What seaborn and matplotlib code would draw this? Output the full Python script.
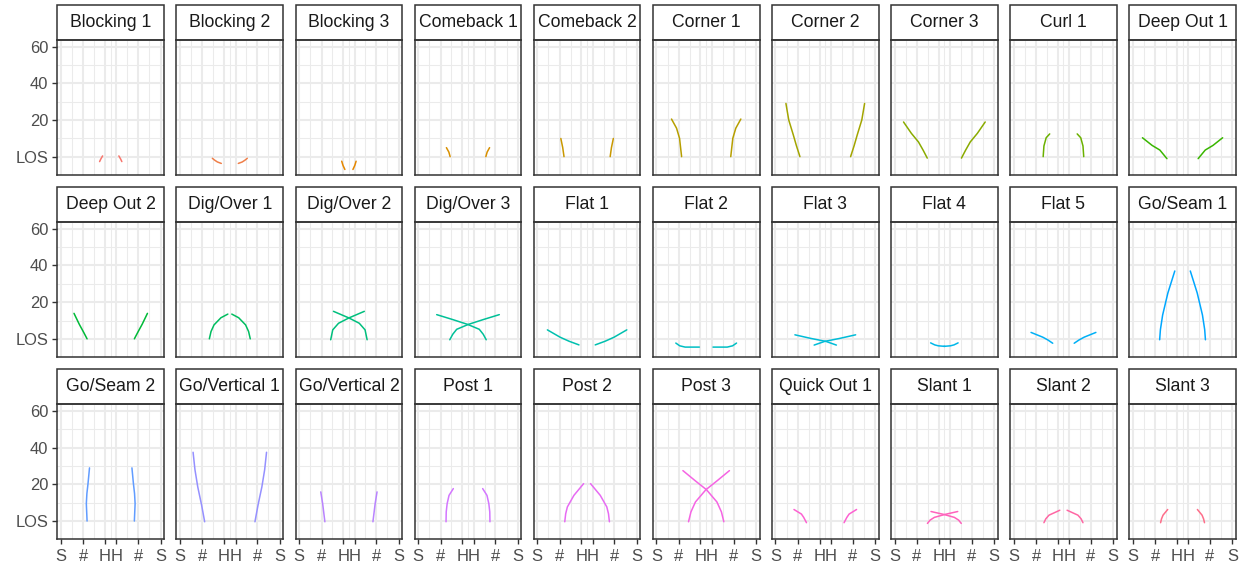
import numpy as np
import pandas as pd
import matplotlib
matplotlib.use("Agg")
import matplotlib.pyplot as plt
import seaborn as sns
from matplotlib.patches import Rectangle

# route names, one facet each
routes = ["Blocking 1", "Blocking 2", "Blocking 3", "Comeback 1", "Comeback 2",
          "Corner 1", "Corner 2", "Corner 3", "Curl 1", "Deep Out 1",
          "Deep Out 2", "Dig/Over 1", "Dig/Over 2", "Dig/Over 3", "Flat 1",
          "Flat 2", "Flat 3", "Flat 4", "Flat 5", "Go/Seam 1",
          "Go/Seam 2", "Go/Vertical 1", "Go/Vertical 2", "Post 1", "Post 2",
          "Post 3", "Quick Out 1", "Slant 1", "Slant 2", "Slant 3"]

# left-side receiver path (yards from sideline, yards past LOS)
left_x = [
    [22.3, 21.3, 20.7],
    [17.3, 18.5, 20.0, 22.1],
    [22.8, 23.5, 24.5],
    [17.1, 16.4, 15.1],
    [14.3, 13.6, 12.6],
    [13.5, 12.4, 10.8, 8.1],
    [13.1, 11.2, 9.5, 7.1, 5.6],
    [17.5, 15.3, 12.8, 9.0, 4.8],
    [15.8, 16.2, 17.4, 19.3],
    [18.3, 14.5, 10.4, 5.2],
    [14.0, 12.2, 9.8, 7.0],
    [15.7, 16.6, 18.2, 21.9, 25.6],
    [16.9, 18.0, 21.1, 26.65, 34.9],
    [16.9, 18.5, 20.6, 26.9, 35.1, 43.4],
    [22.3, 17.0, 12.2, 5.4],
    [10.4, 12.5, 15.4, 23.0],
    [20.7, 26.3, 34.2, 42.9],
    [19.3, 21.5, 23.4, 26.9],
    [20.9, 18.3, 15.6, 9.3],
    [14.4, 14.8, 16.0, 18.8, 22.5],
    [14.0, 13.6, 13.9, 14.5, 15.3],
    [13.2, 11.5, 9.5, 8.0, 7.0],
    [13.8, 12.6, 11.6],
    [14.9, 15.0, 15.5, 16.5, 18.8],
    [14.7, 15.2, 16.1, 19.6, 24.8],
    [17.2, 18.5, 20.9, 26.5, 32.3, 39.1],
    [16.6, 15.1, 13.9, 9.9],
    [17.6, 19.0, 21.3, 26.9, 33.8],
    [16.2, 17.2, 18.9, 24.7],
    [14.9, 15.4, 16.2, 18.7],
]
left_y = [
    [0.4, -1.4, -2.7],
    [-0.9, -1.9, -2.9, -3.7],
    [-2.5, -4.8, -7.0],
    [0.0, 2.5, 4.9],
    [0.0, 5.0, 9.9],
    [0.0, 10.0, 15.5, 20.5],
    [0.0, 6.0, 12.0, 20.0, 29.0],
    [-0.8, 3.5, 8.0, 12.7, 18.9],
    [0.0, 5.8, 10.3, 12.4],
    [-1.1, 3.6, 6.1, 10.3],
    [0.0, 3.5, 8.0, 13.9],
    [0.0, 4.0, 7.6, 11.5, 13.5],
    [-0.5, 4.9, 8.5, 11.4, 15.0],
    [-0.5, 2.5, 5.2, 7.9, 10.6, 13.2],
    [-3.3, -1.3, 0.9, 4.9],
    [-2.3, -3.8, -4.5, -4.5],
    [-3.4, -1.4, 0.2, 2.2],
    [-2.2, -3.3, -3.8, -4.1],
    [-2.4, -0.6, 0.9, 3.5],
    [-0.5, 5.0, 13.0, 25.0, 37.0],
    [0.0, 9.5, 15.0, 20.4, 29.0],
    [-0.4, 9.0, 18.6, 28.0, 37.5],
    [-0.4, 9.5, 15.9],
    [-0.4, 5.0, 9.5, 14.0, 17.7],
    [-0.4, 4.0, 7.7, 14.0, 20.4],
    [-0.4, 5.0, 10.4, 17.1, 21.8, 27.5],
    [-0.9, 2.0, 3.8, 6.3],
    [-1.3, 0.5, 2.0, 3.6, 5.2],
    [-0.9, 1.2, 3.2, 5.9],
    [-0.9, 1.2, 3.2, 6.3],
]

FIELD_W = 53.3
x_breaks = [0, 12, 23.58, 29.72, 41.3, 53.3]
x_labels = ["S", "#", "H", "H", "#", "S"]
y_breaks = [0, 20, 40, 60]
y_labels = ["LOS", "20", "40", "60"]


def hcl_hex(h, c=100, l=65):
    # polar Luv -> sRGB, same as R's hcl()
    h = np.radians(h)
    u_, v_ = c * np.cos(h), c * np.sin(h)
    xn, yn, zn = 95.047, 100.0, 108.883
    Y = yn * ((l + 16) / 116) ** 3
    un = 4 * xn / (xn + 15 * yn + 3 * zn)
    vn = 9 * yn / (xn + 15 * yn + 3 * zn)
    u = u_ / (13 * l) + un
    v = v_ / (13 * l) + vn
    X = 9 * Y * u / (4 * v)
    Z = -X / 3 - 5 * Y + 3 * Y / v
    m = np.array([[3.240479, -1.537150, -0.498535],
                  [-0.969256, 1.875992, 0.041556],
                  [0.055648, -0.204043, 1.057311]])
    rgb = m @ (np.array([X, Y, Z]) / 100)
    rgb = np.where(rgb > 0.0031308, 1.055 * np.clip(rgb, 0, None) ** (1 / 2.4) - 0.055, 12.92 * rgb)
    rgb = np.clip(rgb, 0, 1)
    return "#%02x%02x%02x" % tuple(int(round(v * 255)) for v in rgb)


hues = np.linspace(15, 375, len(routes) + 1)[:-1]
palette = {r: hcl_hex(h) for r, h in zip(routes, hues)}

# long table: both receivers of each route (right one runs the mirrored path)
rows = []
for name, xs, ys in zip(routes, left_x, left_y):
    for side in ("L", "R"):
        for xv, yv in zip(xs, ys):
            rows.append({"route": name, "curve": name + side,
                         "x": xv if side == "L" else FIELD_W - xv, "y": yv})
df = pd.DataFrame(rows)

sns.set_theme(style="white")
plt.rcParams["font.family"] = ["Liberation Sans", "DejaVu Sans"]

g = sns.relplot(data=df, x="x", y="y", col="route", col_wrap=10, col_order=routes,
                hue="route", hue_order=routes, palette=palette, units="curve",
                estimator=None, sort=False, kind="line", legend=False,
                linewidth=1.1, height=1.5, aspect=0.8)
fig = g.figure
fig.set_size_inches(12.47, 5.74)
fig.subplots_adjust(left=0.0460, right=0.9911, top=0.9303, bottom=0.0603,
                    wspace=0.116, hspace=0.35)
g.set_titles("")
g.set_axis_labels("", "")

x_minor = [6, 17.79, 26.65, 35.51, 47.3]
y_minor = [-10, 10, 30, 50]
strip_h = 35 / 135

for i, ax in enumerate(g.axes.flat):
    r, c = divmod(i, 10)
    ax.set_xlim(-1.9, 55.2)
    ax.set_ylim(-10, 63.6)
    ax.set_xticks(x_breaks)
    ax.set_xticklabels(x_labels)
    ax.set_yticks(y_breaks)
    ax.set_yticklabels(y_labels)
    ax.set_xticks(x_minor, minor=True)
    ax.set_yticks(y_minor, minor=True)
    ax.set_axisbelow(True)
    ax.grid(which="major", color="#EBEBEB", linewidth=1.5)
    ax.grid(which="minor", color="#EBEBEB", linewidth=0.75)
    ax.tick_params(which="minor", length=0)
    ax.tick_params(which="major", length=3.6, width=1, color="#333333",
                   labelsize=11.9, labelcolor="#4D4D4D", pad=3)
    ax.tick_params(axis="y", left=(c == 0), labelleft=(c == 0))
    ax.tick_params(axis="x", bottom=(r == 2), labelbottom=(r == 2))
    for sp in ax.spines.values():
        sp.set_visible(True)
        sp.set_color("#333333")
        sp.set_linewidth(1.1)
    ax.add_patch(Rectangle((0, 1), 1, strip_h, transform=ax.transAxes,
                           facecolor="white", edgecolor="#333333",
                           linewidth=1.1, clip_on=False))
    ax.text(0.5, 1 + strip_h / 2, routes[i], transform=ax.transAxes,
            ha="center", va="center", fontsize=12.7, color="#1A1A1A")

fig.savefig("out.png", dpi=100)
